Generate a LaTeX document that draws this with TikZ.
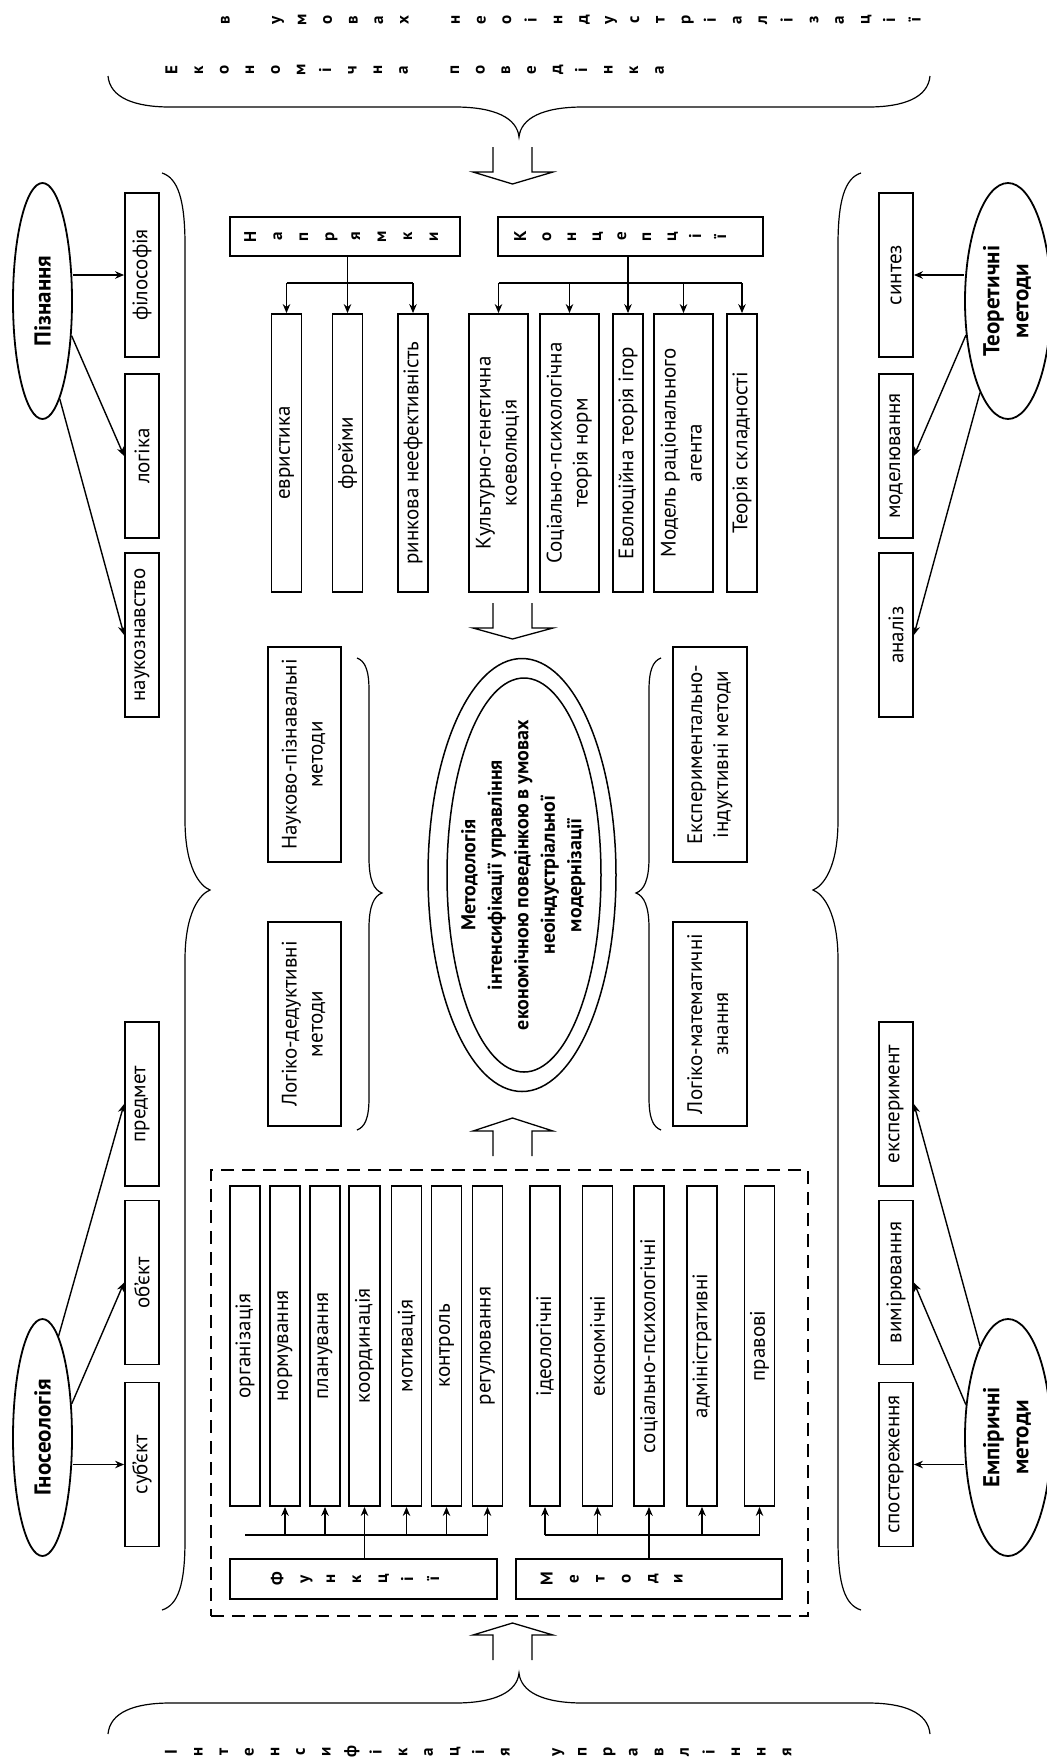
\documentclass[tikz,border=0pt]{standalone}
\usepackage{graphicx}
\usepackage{fontspec}
\setmainfont{PT Sans}
\usetikzlibrary{arrows.meta,calc,shapes.geometric}
\newcommand\rtx[1]{\rotatebox{90}{#1}}
\newcommand\rtl[1]{\rotatebox{90}{\begin{tabular}{@{}c@{}}#1\end{tabular}}}
\tikzset{
  box/.style={draw, line width=1.8pt, inner sep=0pt, font=\fontsize{21}{26}\selectfont},
  oval/.style={draw, ellipse, line width=1.8pt, inner sep=0pt, font=\fontsize{23}{29}\selectfont\bfseries},
  lett/.style={inner sep=0pt, font=\fontsize{17}{25.6}\selectfont\bfseries},
  arr/.style={-{Stealth[length=9pt,width=7.5pt]}, line width=1.4pt},
  bus/.style={line width=1.4pt},
  brace/.style={line width=1.2pt},
  hollow/.style={line width=1.3pt, line join=miter},
}
\begin{document}
\begin{tikzpicture}[x=1pt,y=-1pt]
\fill[white] (0,0) rectangle (1047,1762);
\useasboundingbox (0,0) rectangle (1047,1762);

% ---- spaced letter titles
\node[lett] (tl1) at (570,20) {\rtl{в\\~\\у\\м\\о\\в\\а\\х\\~\\н\\е\\о\\і\\н\\д\\у\\с\\т\\р\\і\\а\\л\\і\\з\\а\\ц\\і\\ї}};
\node[lett] (tl2) at (415.5,70) {\rtl{Е\\к\\о\\н\\о\\м\\і\\ч\\н\\а\\~\\п\\о\\в\\е\\д\\і\\н\\к\\а}};
\node[lett] (bl) at (479,1752) {\rtl{І\\н\\т\\е\\н\\с\\и\\ф\\і\\к\\а\\ц\\і\\я\\~\\у\\п\\р\\а\\в\\л\\і\\н\\н\\я}};

% ---- braces
\draw[brace] (108,76) .. controls (110,98) and (135,107) .. (170,107) -- (455,107)
  .. controls (495,107) and (517,118) .. (519,137)
  .. controls (521,118) and (543,107) .. (583,107) -- (868,107)
  .. controls (903,107) and (928,98) .. (930,76);
\draw[brace] (108,1734) .. controls (110,1712) and (135,1703) .. (170,1703) -- (455,1703)
  .. controls (495,1703) and (517,1692) .. (519,1673)
  .. controls (521,1692) and (543,1703) .. (583,1703) -- (868,1703)
  .. controls (903,1703) and (928,1712) .. (930,1734);
\draw[brace] (162,173) .. controls (178,178) and (185,200) .. (185,245) -- (185,820)
  .. controls (185,868) and (200,886) .. (210,890)
  .. controls (200,894) and (185,912) .. (185,960) -- (185,1540)
  .. controls (185,1585) and (178,1605) .. (162,1610);
\draw[brace] (861,173) .. controls (845,178) and (838,200) .. (838,245) -- (838,820)
  .. controls (838,868) and (823,886) .. (813,890)
  .. controls (823,894) and (838,912) .. (838,960) -- (838,1540)
  .. controls (838,1585) and (845,1605) .. (861,1610);
\draw[brace] (357,658) .. controls (365,661) and (369,670) .. (369,690) -- (369,858)
  .. controls (369,880) and (374,890) .. (382,893)
  .. controls (374,896) and (369,906) .. (369,928) -- (369,1098)
  .. controls (369,1118) and (365,1127) .. (357,1130);
\draw[brace] (661,658) .. controls (653,661) and (649,670) .. (649,690) -- (649,858)
  .. controls (649,880) and (644,890) .. (636,893)
  .. controls (644,896) and (649,906) .. (649,928) -- (649,1098)
  .. controls (649,1118) and (653,1127) .. (661,1130);

% ---- hollow arrows
\draw[hollow] (493,147) -- (493,172) -- (473,172) -- (512.5,184) -- (553,172) -- (532,172) -- (532,147);
\draw[hollow] (493,603) -- (493,628) -- (473,628) -- (512.5,639) -- (553,628) -- (532,628) -- (532,603);
\draw[hollow] (493,1156) -- (493,1131) -- (473,1131) -- (512.5,1118) -- (553,1131) -- (532,1131) -- (532,1156);
\draw[hollow] (493,1660) -- (493,1635) -- (473,1635) -- (512.5,1623) -- (553,1635) -- (532,1635) -- (532,1660);

% ---- Пізнання
\node[oval, minimum width=59, minimum height=236] (pz) at (42.5,301) {\rtx{Пізнання}};
\node[box, minimum width=34, minimum height=164] (fil) at (142,275) {\rtx{філософія}};
\node[box, minimum width=34, minimum height=164] (log) at (142,456) {\rtx{логіка}};
\node[box, minimum width=34, minimum height=164] (nauk) at (142,635) {\rtx{наукознавство}};
\draw[arr] (pz.east |- fil.west) -- (fil.west);
\draw[arr] (pz.-50) -- (log.west);
\draw[arr] (pz.-80) -- (nauk.west);

% ---- Гносеологія
\node[oval, minimum width=59, minimum height=237] (gn) at (42.5,1437.5) {\rtx{Гносеологія}};
\node[box, minimum width=34, minimum height=164] (sub) at (142,1464.5) {\rtx{суб'єкт}};
\node[box, minimum width=34, minimum height=164] (obj) at (142,1282.5) {\rtx{об'єкт}};
\node[box, minimum width=34, minimum height=164] (pred) at (142,1104) {\rtx{предмет}};
\draw[arr] (gn.east |- sub.west) -- (sub.west);
\draw[arr] (gn.49) -- (obj.west);
\draw[arr] (gn.81) -- (pred.west);

% ---- Теоретичні методи
\node[oval, minimum width=86, minimum height=236] (tm) at (1008,301) {\rtl{Теоретичні\\методи}};
\node[box, minimum width=34, minimum height=164] (sint) at (896,275) {\rtx{синтез}};
\node[box, minimum width=34, minimum height=164] (mod) at (896,456) {\rtx{моделювання}};
\node[box, minimum width=34, minimum height=164] (anal) at (896,635) {\rtx{аналіз}};
\draw[arr] (tm.west |- sint.east) -- (sint.east);
\draw[arr] (tm.219) -- (mod.east);
\draw[arr] (tm.253) -- (anal.east);

% ---- Емпіричні методи
\node[oval, minimum width=86, minimum height=237] (em) at (1008,1437.5) {\rtl{Емпіричні\\методи}};
\node[box, minimum width=34, minimum height=164] (spos) at (896,1464.5) {\rtx{спостереження}};
\node[box, minimum width=34, minimum height=164] (vym) at (896,1282.5) {\rtx{вимірювання}};
\node[box, minimum width=34, minimum height=164] (eksp) at (896,1104) {\rtx{експеримент}};
\draw[arr] (em.west |- spos.east) -- (spos.east);
\draw[arr] (em.142) -- (vym.east);
\draw[arr] (em.107) -- (eksp.east);

% ---- Напрямки
\node[box, minimum width=230, minimum height=39] (napr) at (345,236.5) {};
\node[lett, font=\fontsize{17}{26}\selectfont\bfseries] (naprt) at (342,236.5) {\rtl{Н\\а\\п\\р\\я\\м\\к\\и}};
\node[box, minimum width=30, minimum height=278] (evr) at (286.5,453) {\rtx{евристика}};
\node[box, minimum width=30, minimum height=278] (frej) at (347.5,453) {\rtx{фрейми}};
\node[box, minimum width=30, minimum height=278] (rynk) at (413,453) {\rtx{ринкова неефективність}};
\coordinate (nbus) at (0,283);
\draw[arr] (napr.south -| frej) -- (frej.north);
\draw[bus] (evr.north |- nbus) -- (rynk.north |- nbus);
\draw[arr] (evr.north |- nbus) -- (evr.north);
\draw[arr] (rynk.north |- nbus) -- (rynk.north);

% ---- Концепції
\node[box, minimum width=265, minimum height=39] (konc) at (630.5,236.5) {};
\node[lett, font=\fontsize{17}{25}\selectfont\bfseries] (konct) at (621,236.5) {\rtl{К\\о\\н\\ц\\е\\п\\ц\\і\\ї}};
\node[box, minimum width=59, minimum height=278] (kult) at (498.5,453) {\rtl{Культурно-генетична\\коеволюція}};
\node[box, minimum width=59, minimum height=278] (socn) at (569.5,453) {\rtl{Соціально-психологічна\\теорія норм}};
\node[box, minimum width=30, minimum height=278] (evol) at (628,453) {\rtx{Еволюційна теорія ігор}};
\node[box, minimum width=59, minimum height=278] (model) at (683.5,453) {\rtl{Модель раціонального\\агента}};
\node[box, minimum width=30, minimum height=278] (skl) at (742,453) {\rtx{Теорія складності}};
\draw[arr] (konc.south -| evol) -- (evol.north);
\draw[bus] (kult.north |- nbus) -- (skl.north |- nbus);
\draw[arr] (kult.north |- nbus) -- (kult.north);
\draw[arr] (socn.north |- nbus) -- (socn.north);
\draw[arr] (model.north |- nbus) -- (model.north);
\draw[arr] (skl.north |- nbus) -- (skl.north);

% ---- methods boxes
\node[box, minimum width=73, minimum height=215] (npm) at (304.5,754.5) {\rtl{Науково-пізнавальні\\методи}};
\node[box, minimum width=73, minimum height=204] (ldm) at (304.5,1024) {\rtl{Логіко-дедуктивні\\методи}};
\node[box, minimum width=74, minimum height=215] (eim) at (710,754.5) {\rtl{Експериментально-\\індуктивні методи}};
\node[box, minimum width=74, minimum height=204] (lmz) at (710,1024) {\rtl{Логіко-математичні\\знання}};

% ---- central ellipse
\node[draw, ellipse, line width=1.5pt, minimum width=188, minimum height=433] (coreo) at (522,875) {};
\node[draw, ellipse, line width=1.5pt, minimum width=154, minimum height=394] (corei) at (524,875) {};
\node[inner sep=0pt, font=\fontsize{20}{26.5}\selectfont\bfseries] (coret) at (523,875)
  {\rtl{Методологія\\інтенсифікації управління\\економічною поведінкою в умовах\\неоіндустріальної\\модернізації}};

% ---- dashed group
\node[draw, dash pattern=on 13pt off 8pt, line width=1.7pt, minimum width=597, minimum height=446] (grp) at (509.5,1393) {};

% ---- Функції
\node[box, minimum width=267, minimum height=40] (fun) at (363.5,1579) {};
\node[lett, font=\fontsize{17}{26}\selectfont\bfseries] (funt) at (356,1579) {\rtl{Ф\\у\\н\\к\\ц\\і\\ї}};
\node[box, minimum width=30, minimum height=320] (org) at (245,1346) {\rtx{організація}};
\node[box, minimum width=30, minimum height=320] (norm) at (285,1346) {\rtx{нормування}};
\node[box, minimum width=30, minimum height=320] (plan) at (325,1346) {\rtx{планування}};
\node[box, minimum width=31, minimum height=320] (koord) at (364.5,1346) {\rtx{координація}};
\node[box, minimum width=30, minimum height=320] (motyv) at (406.5,1346) {\rtx{мотивація}};
\node[box, minimum width=30, minimum height=320] (kontr) at (446.5,1346) {\rtx{контроль}};
\node[box, minimum width=30, minimum height=320] (reg) at (487.5,1346) {\rtx{регулювання}};
\coordinate (fbus) at (0,1535);
\draw[arr] (fun.north -| koord) -- (koord.south);
\draw[bus] (org.south |- fbus) -- (reg.south |- fbus);
\foreach \n in {norm,plan,motyv,kontr,reg} \draw[arr] (\n.south |- fbus) -- (\n.south);

% ---- Методи
\node[box, minimum width=266, minimum height=40] (met) at (649,1579) {};
\node[lett, font=\fontsize{17}{26}\selectfont\bfseries] (mett) at (612.5,1579) {\rtl{М\\е\\т\\о\\д\\и}};
\node[box, minimum width=30, minimum height=320] (ideol) at (545,1346) {\rtx{ідеологічні}};
\node[box, minimum width=30, minimum height=320] (ekon) at (597.5,1346) {\rtx{економічні}};
\node[box, minimum width=30, minimum height=320] (socp) at (649,1346) {\rtx{соціально-психологічні}};
\node[box, minimum width=30, minimum height=320] (admin) at (702,1346) {\rtx{адміністративні}};
\node[box, minimum width=30, minimum height=320] (prav) at (759.5,1346) {\rtx{правові}};
\draw[arr] (met.north -| socp) -- (socp.south);
\draw[bus] (ideol.south |- fbus) -- (prav.south |- fbus);
\foreach \n in {ideol,ekon,admin,prav} \draw[arr] (\n.south |- fbus) -- (\n.south);
\end{tikzpicture}
\end{document}
